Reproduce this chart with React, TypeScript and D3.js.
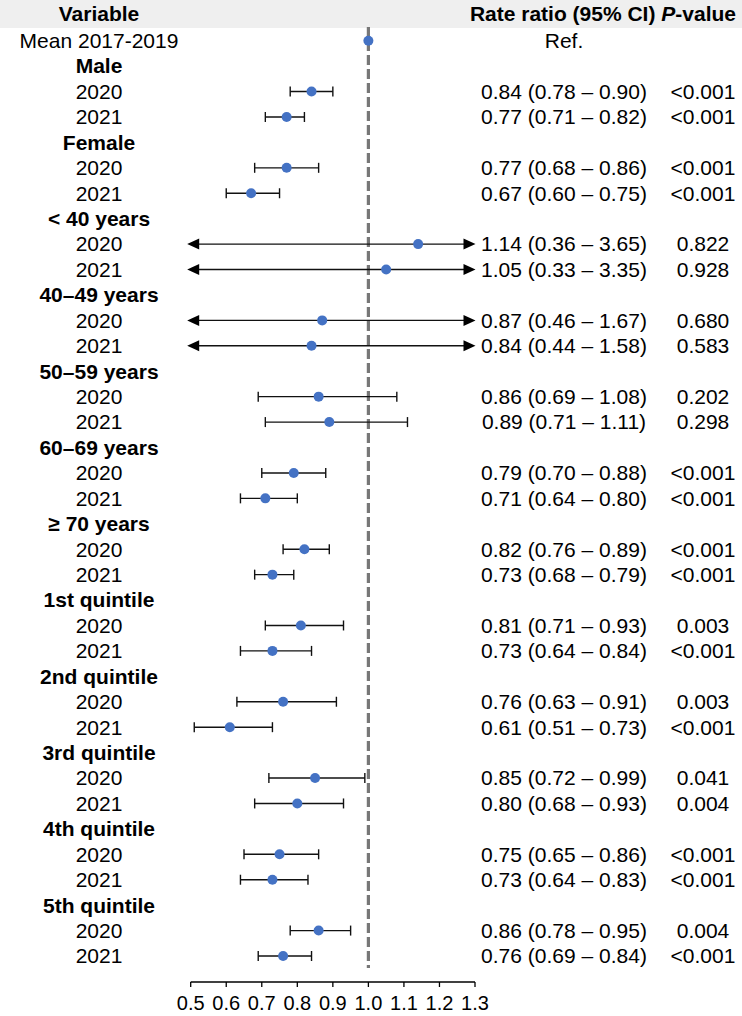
import React from "react";
import * as d3 from "d3";

const groups = ["Male", "Female", "< 40 years", "40–49 years", "50–59 years", "60–69 years", "≥ 70 years", "1st quintile", "2nd quintile", "3rd quintile", "4th quintile", "5th quintile"];
const rr2020 = [0.84, 0.77, 1.14, 0.87, 0.86, 0.79, 0.82, 0.81, 0.76, 0.85, 0.75, 0.86];
const lo2020 = [0.78, 0.68, 0.36, 0.46, 0.69, 0.70, 0.76, 0.71, 0.63, 0.72, 0.65, 0.78];
const hi2020 = [0.90, 0.86, 3.65, 1.67, 1.08, 0.88, 0.89, 0.93, 0.91, 0.99, 0.86, 0.95];
const p2020 = ["<0.001", "<0.001", "0.822", "0.680", "0.202", "<0.001", "<0.001", "0.003", "0.003", "0.041", "<0.001", "0.004"];
const rr2021 = [0.77, 0.67, 1.05, 0.84, 0.89, 0.71, 0.73, 0.73, 0.61, 0.80, 0.73, 0.76];
const lo2021 = [0.71, 0.60, 0.33, 0.44, 0.71, 0.64, 0.68, 0.64, 0.51, 0.68, 0.64, 0.69];
const hi2021 = [0.82, 0.75, 3.35, 1.58, 1.11, 0.80, 0.79, 0.84, 0.73, 0.93, 0.83, 0.84];
const p2021 = ["<0.001", "<0.001", "0.928", "0.583", "0.298", "<0.001", "<0.001", "<0.001", "<0.001", "0.004", "<0.001", "<0.001"];
const years = ["2020", "2021"];
const refLabel = "Mean 2017-2019";
const refValue = 1.0;
const xTicks = [0.5, 0.6, 0.7, 0.8, 0.9, 1.0, 1.1, 1.2, 1.3];

type Row =
  | { kind: "ref"; label: string; rr: number }
  | { kind: "group"; label: string }
  | { kind: "est"; label: string; rr: number; lo: number; hi: number; p: string };

const rows: Row[] = [{ kind: "ref", label: refLabel, rr: refValue }];
groups.forEach((g, i) => {
  rows.push({ kind: "group", label: g });
  rows.push({ kind: "est", label: years[0], rr: rr2020[i], lo: lo2020[i], hi: hi2020[i], p: p2020[i] });
  rows.push({ kind: "est", label: years[1], rr: rr2021[i], lo: lo2021[i], hi: hi2021[i], p: p2021[i] });
});

const W = 742;
const H = 1016;
const FONT = "'Liberation Sans', Arial, sans-serif";
const FS = 21;

export default function App() {
  const x = d3.scaleLinear().domain([0.5, 1.3]).range([190.7, 475]);
  const y = d3.scaleLinear().domain([0, rows.length - 1]).range([40.7, 956]);
  const [dMin, dMax] = x.domain();
  const axisY = 982;
  const blue = "#4472C4";
  const labelX = 99;
  const rrX = 564;
  const pX = 703;

  const arrowL = (yy: number) => {
    const tip = x(dMin) - 3.5;
    return `M${tip},${yy} L${tip + 12},${yy - 5.5} L${tip + 12},${yy + 5.5} Z`;
  };
  const arrowR = (yy: number) => {
    const tip = x(dMax) + 0.5;
    return `M${tip},${yy} L${tip - 12},${yy - 5.5} L${tip - 12},${yy + 5.5} Z`;
  };

  return (
    <>
      <style>{`body{margin:0}`}</style>
      <svg width={W} height={H} style={{ display: "block", fontFamily: FONT }}>
        <rect x={0} y={0} width={W} height={H} fill="#ffffff" />
        <rect x={0} y={0} width={W} height={28} fill="#efefef" />
        <text x={labelX} y={14} dy="0.35em" textAnchor="middle" fontWeight="bold" fontSize={FS} fill="#000">
          Variable
        </text>
        <text x={736} y={14} dy="0.35em" textAnchor="end" fontWeight="bold" fontSize={FS} fill="#000">
          Rate ratio (95% CI) <tspan fontStyle="italic">P</tspan>-value
        </text>

        <line
          x1={x(refValue)}
          x2={x(refValue)}
          y1={27}
          y2={968}
          stroke="#777777"
          strokeWidth={3.2}
          strokeDasharray="10,4"
        />

        {rows.map((r, i) => {
          const yy = y(i);
          if (r.kind === "group") {
            return (
              <text key={i} x={labelX} y={yy} dy="0.35em" textAnchor="middle" fontWeight="bold" fontSize={FS}>
                {r.label}
              </text>
            );
          }
          if (r.kind === "ref") {
            return (
              <g key={i}>
                <text x={labelX} y={yy} dy="0.35em" textAnchor="middle" fontSize={FS}>
                  {r.label}
                </text>
                <circle cx={x(r.rr)} cy={yy} r={5} fill={blue} />
                <text x={rrX} y={yy} dy="0.35em" textAnchor="middle" fontSize={FS}>
                  Ref.
                </text>
              </g>
            );
          }
          const clipLo = r.lo < dMin;
          const clipHi = r.hi > dMax;
          const x1 = x(Math.max(r.lo, dMin));
          const x2 = x(Math.min(r.hi, dMax));
          return (
            <g key={i}>
              <text x={labelX} y={yy} dy="0.35em" textAnchor="middle" fontSize={FS}>
                {r.label}
              </text>
              <line x1={clipLo ? x1 + 6 : x1} x2={clipHi ? x2 - 6 : x2} y1={yy} y2={yy} stroke="#111" strokeWidth={1.4} />
              {clipLo ? (
                <path d={arrowL(yy)} fill="#000" />
              ) : (
                <line x1={x1} x2={x1} y1={yy - 5} y2={yy + 5} stroke="#111" strokeWidth={1.4} />
              )}
              {clipHi ? (
                <path d={arrowR(yy)} fill="#000" />
              ) : (
                <line x1={x2} x2={x2} y1={yy - 5} y2={yy + 5} stroke="#111" strokeWidth={1.4} />
              )}
              <circle cx={x(r.rr)} cy={yy} r={5} fill={blue} />
              <text x={rrX} y={yy} dy="0.35em" textAnchor="middle" fontSize={FS}>
                {`${r.rr.toFixed(2)} (${r.lo.toFixed(2)} – ${r.hi.toFixed(2)})`}
              </text>
              <text x={pX} y={yy} dy="0.35em" textAnchor="middle" fontSize={FS}>
                {r.p}
              </text>
            </g>
          );
        })}

        <line x1={x(dMin)} x2={x(dMax)} y1={axisY} y2={axisY} stroke="#000" strokeWidth={1.3} />
        {xTicks.map((t) => (
          <g key={t}>
            <line x1={x(t)} x2={x(t)} y1={axisY} y2={axisY + 5} stroke="#000" strokeWidth={1.3} />
            <text x={x(t)} y={1003} dy="0.35em" textAnchor="middle" fontSize={20}>
              {t.toFixed(1)}
            </text>
          </g>
        ))}
      </svg>
    </>
  );
}
